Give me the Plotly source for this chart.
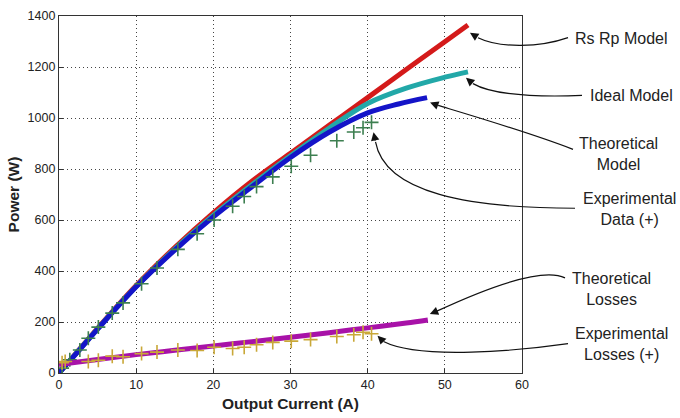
import plotly.graph_objects as go

# ---------------- data ----------------
current_rsrp = [0, 2, 5, 10, 15, 20, 25, 30, 35, 40, 45, 50, 53]
power_rsrp = [0, 70, 175, 343, 492, 628, 752, 862, 971, 1080, 1190, 1299, 1365]

current_ideal = [0, 2, 5, 10, 15, 20, 25, 30, 35, 40, 45, 50, 53]
power_ideal = [0, 69, 173, 339, 486, 618, 738, 852, 960, 1057, 1117, 1160, 1181]

current_theory = [0, 2, 5, 10, 15, 20, 25, 30, 35, 40, 44, 47.7]
power_theory = [0, 68, 172, 338, 482, 612, 730, 845, 944, 1020, 1055, 1080]

current_exp = [0.4, 1.4, 2.7, 3.8, 5.1, 6.9, 8.3, 10.7, 12.7, 15.4, 17.9, 20.1,
               22.5, 24.0, 25.6, 27.7, 30.1, 32.6, 36.0, 38.2, 39.4, 40.5]
power_exp = [19, 52, 90, 136, 180, 235, 275, 350, 412, 485, 546, 600,
             654, 692, 731, 769, 811, 854, 911, 945, 962, 983]

current_loss_theory = [0, 5, 10, 15, 20, 25, 30, 35, 40, 45, 47.8]
power_loss_theory = [33, 53, 72, 89, 106, 123, 140, 158, 177, 196, 208]

current_loss_exp = [0.4, 0.8, 3.8, 5.1, 6.9, 8.3, 10.7, 12.7, 15.4, 17.9, 20.1,
                    22.5, 24.0, 25.6, 27.7, 30.1, 32.6, 36.0, 38.2, 39.4, 40.5]
power_loss_exp = [40, 45, 45, 50, 66, 64, 76, 82, 90, 88, 101,
                  96, 101, 111, 120, 125, 131, 143, 150, 160, 154]

x_ticks = [0, 10, 20, 30, 40, 50, 60]
y_ticks = [0, 200, 400, 600, 800, 1000, 1200, 1400]

labels = ["Rs Rp Model", "Ideal Model", "Theoretical<br>Model",
          "Experimental<br>Data (+)", "Theoretical<br>Losses",
          "Experimental<br>Losses (+)"]

# ---------------- layout geometry ----------------
W_PX, H_PX = 680, 418
ML, MR, MT, MB = 59, 158, 9, 45
X_RANGE = [0, 60]
Y_RANGE = [0, 1400]
PW = W_PX - ML - MR
PH = H_PX - MT - MB


def d2px(x, y):
    px = ML + (x - X_RANGE[0]) / (X_RANGE[1] - X_RANGE[0]) * PW
    py = MT + (Y_RANGE[1] - y) / (Y_RANGE[1] - Y_RANGE[0]) * PH
    return px, py


def px2paper(px, py):
    return (px - ML) / PW, (H_PX - MB - py) / PH


def P(px, py):
    a, b = px2paper(px, py)
    return f"{a:.4f},{b:.4f}"


FONT = "Liberation Sans, Arial, Helvetica, sans-serif"

fig = go.Figure()

line_w = 5
fig.add_trace(go.Scatter(x=current_rsrp, y=power_rsrp, mode="lines",
                         line=dict(color="#d41a1a", width=line_w, shape="spline"),
                         name="Rs Rp Model"))
fig.add_trace(go.Scatter(x=current_ideal, y=power_ideal, mode="lines",
                         line=dict(color="#22a8a8", width=line_w, shape="spline"),
                         name="Ideal Model"))
fig.add_trace(go.Scatter(x=current_theory, y=power_theory, mode="lines",
                         line=dict(color="#1414c8", width=line_w, shape="spline"),
                         name="Theoretical Model"))
fig.add_trace(go.Scatter(x=current_exp, y=power_exp, mode="markers",
                         marker=dict(symbol="cross-thin", size=10,
                                     line=dict(color="#3d7f50", width=1.6)),
                         name="Experimental Data"))
fig.add_trace(go.Scatter(x=current_loss_theory, y=power_loss_theory, mode="lines",
                         line=dict(color="#a812a8", width=line_w, shape="spline"),
                         name="Theoretical Losses"))
fig.add_trace(go.Scatter(x=current_loss_exp, y=power_loss_exp, mode="markers",
                         marker=dict(symbol="cross-thin", size=10,
                                     line=dict(color="#c9a838", width=1.6)),
                         name="Experimental Losses"))

# ---------------- callouts ----------------
ends = [
    (current_rsrp[-1], power_rsrp[-1], (2, 8)),
    (current_ideal[-1], power_ideal[-1], (-2, 6)),
    (current_theory[-1], power_theory[-1], (3, 5)),
    (current_exp[-1], power_exp[-1], (2, 10)),
    (current_loss_theory[-1], power_loss_theory[-1], (2, -6)),
    (current_loss_exp[-1], power_loss_exp[-1], (6, 2)),
]
label_pos = [(621, 32), (631, 90), (618, 150), (629, 206), (611, 287), (621, 343)]
curves = [
    ((568, 31), (540, 41), (500, 42), (8, 5)),
    ((582, 90), (530, 92), (490, 88), (7, 6)),
    ((573, 145), (530, 128), (470, 110), (8, 3)),
    ((575, 205), (470, 205), (385, 190), (2, 10)),
    ((565, 276), (545, 266), (500, 280), (7, -3)),
    ((568, 343), (520, 350), (420, 360), (6, 6)),
]

shapes = []
annotations = []
for lab, (lx, ly), (ex, ey, (ox, oy)), (s, c1, c2, (tx, ty)) in zip(
        labels, label_pos, ends, curves):
    tipx, tipy = d2px(ex, ey)
    tipx += ox
    tipy += oy
    tailx, taily = tipx + tx, tipy + ty
    path = (f"M {P(*s)} C {P(*c1)} {P(*c2)} {P(tailx, taily)}")
    shapes.append(dict(type="path", xref="paper", yref="paper", path=path,
                       line=dict(color="#111111", width=1.2), layer="above"))
    ax_, ay_ = px2paper(tipx, tipy)
    annotations.append(dict(xref="paper", yref="paper", x=ax_, y=ay_,
                            ax=tx, ay=ty, axref="pixel", ayref="pixel",
                            text="", showarrow=True, arrowhead=2, arrowsize=1.4,
                            arrowwidth=1.2, arrowcolor="#111111", standoff=0))
    px_, py_ = px2paper(lx, ly)
    annotations.append(dict(xref="paper", yref="paper", x=px_, y=py_,
                            text=lab, showarrow=False, xanchor="center",
                            yanchor="middle", align="center",
                            font=dict(family=FONT, size=16, color="#222222")))

axis_common = dict(showgrid=True, gridcolor="#444444", griddash="1px,3px", gridwidth=1,
                   zeroline=False, showline=True, linecolor="#333333", linewidth=1.3,
                   mirror=True, ticks="inside", ticklen=4, tickcolor="#333333",
                   tickfont=dict(family=FONT, size=12.5, color="#222222"))

fig.update_layout(
    width=W_PX, height=H_PX,
    margin=dict(l=ML, r=MR, t=MT, b=MB, pad=0),
    paper_bgcolor="white", plot_bgcolor="white",
    showlegend=False,
    shapes=shapes, annotations=annotations,
    xaxis=dict(range=X_RANGE, tickvals=x_ticks,
               title=dict(text="<b>Output Current (A)</b>", standoff=6,
                          font=dict(family=FONT, size=15.5, color="#222222")),
               **axis_common),
    yaxis=dict(range=Y_RANGE, tickvals=y_ticks,
               title=dict(text="<b>Power (W)</b>", standoff=4,
                          font=dict(family=FONT, size=15.5, color="#222222")),
               **axis_common),
)

fig.write_html("out.html")
